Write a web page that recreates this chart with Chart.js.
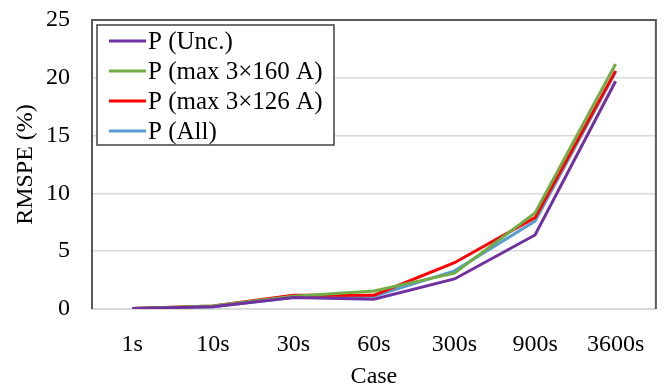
<!DOCTYPE html>
<html>
<head>
<meta charset="utf-8">
<script src="https://cdn.jsdelivr.net/npm/chart.js@4/dist/chart.umd.min.js"></script>
<style>
  html, body { margin: 0; padding: 0; background: #fff; }
  #wrap { width: 666px; height: 386px; }
</style>
</head>
<body>
<div id="wrap"><canvas id="chart" width="666" height="386"></canvas></div>
<script>
const cases = ["1s", "10s", "30s", "60s", "300s", "900s", "3600s"];
const unc = [0.05, 0.2, 1.0, 0.85, 2.6, 6.4, 19.7];
const max160 = [0.05, 0.25, 1.1, 1.55, 3.1, 8.3, 21.2];
const max126 = [0.05, 0.25, 1.2, 1.2, 4.0, 7.9, 20.6];
const all = [0.05, 0.2, 1.0, 1.1, 3.3, 7.6, 20.5];
const seriesNames = ["P (Unc.)", "P (max 3×160 A)", "P (max 3×126 A)", "P (All)"];
const seriesColors = ["#7030A0", "#70AD47", "#FF0000", "#5B9BD5"];

const font = "'Liberation Serif', 'Times New Roman', serif";

const mkSet = (i, data) => ({
  label: seriesNames[i],
  data,
  borderColor: seriesColors[i],
  backgroundColor: seriesColors[i],
  borderWidth: 3,
  pointRadius: 0,
  tension: 0,
  fill: false
});

// frame + in-plot legend box, drawn on the canvas
const framePlugin = {
  id: "frame",
  afterDraw(chart) {
    const { ctx, chartArea: a } = chart;
    ctx.save();
    ctx.strokeStyle = "#595959";
    ctx.lineWidth = 2;
    ctx.beginPath();
    ctx.moveTo(a.left, a.bottom);
    ctx.lineTo(a.left, a.top);
    ctx.lineTo(a.right, a.top);
    ctx.lineTo(a.right, a.bottom);
    ctx.stroke();

    const x0 = a.left + 5, y0 = a.top + 5, w = 237, h = 120;
    ctx.fillStyle = "#fff";
    ctx.fillRect(x0, y0, w, h);
    ctx.strokeStyle = "#404040";
    ctx.lineWidth = 1.5;
    ctx.strokeRect(x0, y0, w, h);
    ctx.font = "25px " + font;
    ctx.textBaseline = "middle";
    ctx.fillStyle = "#000";
    chart.data.datasets.forEach((ds, i) => {
      const y = y0 + 16 + i * 30;
      ctx.strokeStyle = ds.borderColor;
      ctx.lineWidth = 3;
      ctx.beginPath();
      ctx.moveTo(x0 + 12, y);
      ctx.lineTo(x0 + 49, y);
      ctx.stroke();
      ctx.fillText(ds.label, x0 + 51, y + 1);
    });
    ctx.restore();
  }
};

new Chart("chart", {
  type: "line",
  data: {
    labels: cases,
    datasets: [mkSet(0, unc), mkSet(1, max160), mkSet(2, max126), mkSet(3, all)]
  },
  options: {
    responsive: false,
    animation: false,
    layout: { padding: { top: 20, right: 10, left: 0, bottom: 0 } },
    plugins: { legend: { display: false }, tooltip: { enabled: false } },
    scales: {
      x: {
        offset: true,
        grid: { display: false, drawTicks: false },
        border: { color: "#d9d9d9", width: 2 },
        ticks: { color: "#000", font: { family: font, size: 24 }, padding: 21, maxRotation: 0 },
        title: { display: true, text: "Case", color: "#000", font: { family: font, size: 24, lineHeight: 1 }, padding: { top: 0, bottom: -3 } },
        afterFit: s => { s.height = 77; }
      },
      y: {
        min: 0,
        max: 25,
        ticks: { stepSize: 5, color: "#000", font: { family: font, size: 24 }, padding: 22 },
        grid: { color: "#d9d9d9", lineWidth: 1.5, drawTicks: false },
        border: { display: false },
        title: { display: true, text: "RMSPE (%)", color: "#000", font: { family: font, size: 24, lineHeight: 1 }, padding: { top: 14 } },
        afterFit: s => { s.width = 92; s.paddingTop = 0; s.paddingBottom = 0; }
      }
    }
  },
  plugins: [framePlugin]
});
</script>
</body>
</html>
